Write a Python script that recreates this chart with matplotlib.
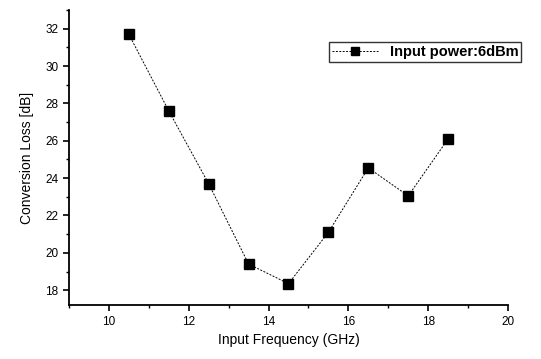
import matplotlib
matplotlib.use('Agg')
import matplotlib.pyplot as plt
from matplotlib.ticker import MultipleLocator

plt.rcParams['font.family'] = ['Liberation Sans', 'DejaVu Sans']

# Data
freq_ghz = [10.5, 11.5, 12.5, 13.5, 14.5, 15.5, 16.5, 17.5, 18.5]
conv_loss_db = [31.7, 27.6, 23.7, 19.4, 18.35, 21.1, 24.55, 23.05, 26.1]
series_label = 'Input power:6dBm'

fig = plt.figure(figsize=(5.41, 3.59), dpi=100)
ax = fig.add_axes([0.1275, 0.150, 0.8115, 0.822])

ax.plot(freq_ghz, conv_loss_db, color='black', linestyle=(0, (2, 1.5)), linewidth=0.7,
        marker='s', markersize=6.5, markerfacecolor='black', markeredgecolor='black',
        label=series_label)

ax.set_xlim(9, 20)
ax.set_ylim(17.2, 33)
ax.xaxis.set_major_locator(MultipleLocator(2))
ax.xaxis.set_minor_locator(MultipleLocator(1))
ax.yaxis.set_major_locator(MultipleLocator(2))
ax.yaxis.set_minor_locator(MultipleLocator(1))

for side in ['top', 'right']:
    ax.spines[side].set_visible(False)
for side in ['left', 'bottom']:
    ax.spines[side].set_linewidth(1.3)

ax.tick_params(which='major', direction='out', length=4, width=1.2, labelsize=8.5)
ax.tick_params(which='minor', direction='out', length=2.5, width=1)

ax.set_xlabel('Input Frequency (GHz)', fontsize=10, labelpad=4)
ax.set_ylabel('Conversion Loss [dB]', fontsize=10, labelpad=8)

leg = ax.legend(loc='upper left', bbox_to_anchor=(0.575, 0.915), handlelength=3.2,
                frameon=True, fancybox=False, edgecolor='black',
                borderpad=0.2, handletextpad=0.8, markerscale=0.9,
                prop={'size': 10.5, 'weight': 'bold'})
leg.get_frame().set_linewidth(1.0)

fig.savefig('out.png', dpi=100)
